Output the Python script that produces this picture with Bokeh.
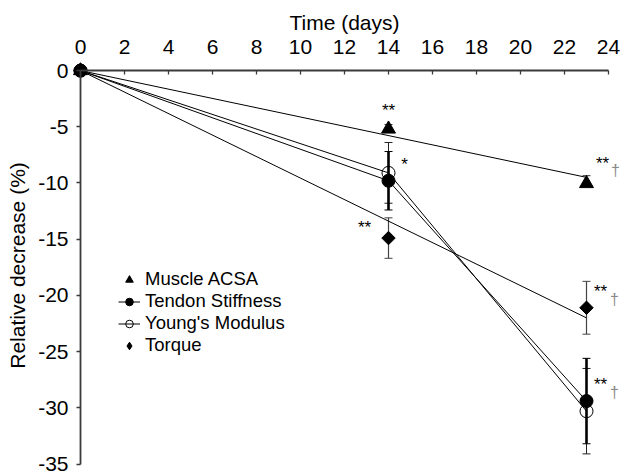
import numpy as np
from bokeh.plotting import figure
from bokeh.models import (LinearAxis, FixedTicker, Range1d, Whisker, TeeHead,
                          ColumnDataSource, Legend, LegendItem, Label)
from bokeh.embed import file_html
from bokeh.resources import INLINE

# ---------------- data ----------------
days = [0, 14, 23]
acsa = [0.0, -5.2, -10.05]
acsa_sd = [0.0, 0.4, 0.7]
stiffness = [0.0, -9.8, -29.4]
stiffness_sd = [0.0, 2.6, 3.8]
modulus = [0.0, -9.1, -30.3]
modulus_sd = [0.0, 2.7, 3.8]
torque = [0.0, -14.9, -21.1]
torque_sd = [0.0, 1.8, 2.35]
trend_days = [0, 23]
acsa_trend = [0.0, -9.5]
torque_trend = [0.0, -22.0]
x_ticks = list(range(0, 25, 2))
y_ticks = list(range(-35, 1, 5))
y_tick_labels = ["-35", "-30", "-25", "-20", "-15", "-10", "-5", "0"]
series_names = ["Muscle ACSA", "Tendon Stiffness", "Young's Modulus", "Torque"]

FONT = "Liberation Sans"
FS_AX = "21px"
FS_LEG = "18.5px"
AXIS_COLOR = "#3a3a3a"

p = figure(width=620, height=475, output_backend="svg", toolbar_location=None,
           x_range=Range1d(-0.5, 24.5), y_range=Range1d(-35.4, 0.72),
           x_axis_location=None, y_axis_location=None,
           min_border_left=69, min_border_right=1, min_border_top=62,
           min_border_bottom=7)
p.grid.visible = False
p.outline_line_color = None
p.background_fill_color = "white"
p.border_fill_color = "white"

# label-only axes on the frame edges
lx = LinearAxis(axis_label="Time (days)", ticker=FixedTicker(ticks=x_ticks))
ly = LinearAxis(axis_label="Relative decrease (%)", ticker=FixedTicker(ticks=y_ticks),
                major_label_overrides={t: s for t, s in zip(y_ticks, y_tick_labels)})
for ax in (lx, ly):
    ax.axis_line_color = None
    ax.major_tick_line_color = None
    ax.minor_tick_line_color = None
    ax.major_tick_in = 0
    ax.major_tick_out = 0
    ax.major_label_text_font = FONT
    ax.major_label_text_font_size = FS_AX
    ax.major_label_text_color = "black"
    ax.axis_label_text_font = FONT
    ax.axis_label_text_font_size = FS_AX
    ax.axis_label_text_font_style = "normal"
    ax.axis_label_text_color = "black"
lx.major_label_standoff = 9
lx.axis_label_standoff = 3
ly.major_label_standoff = 1
ly.axis_label_standoff = 6
p.add_layout(lx, "above")
p.add_layout(ly, "left")

# axis lines + ticks fixed on the zero lines (no labels of their own)
fx = LinearAxis(ticker=FixedTicker(ticks=x_ticks), fixed_location=0, bounds=(0, 24),
                major_label_overrides={t: "" for t in x_ticks})
fy = LinearAxis(ticker=FixedTicker(ticks=y_ticks), fixed_location=0, bounds=(-35, 0),
                major_label_overrides={t: "" for t in y_ticks})
for ax in (fx, fy):
    ax.axis_line_color = AXIS_COLOR
    ax.axis_line_width = 1.8
    ax.major_tick_line_color = AXIS_COLOR
    ax.major_tick_line_width = 1.3
    ax.minor_tick_line_color = None
    ax.major_label_standoff = 0
fx.major_tick_in = 4
fx.major_tick_out = 0
fy.major_tick_in = 0
fy.major_tick_out = 4
p.add_layout(fx, "above")
p.add_layout(fy, "left")

# ---------------- error bars ----------------
def bars(vals, sds, lw, color, lower=True):
    v = np.array(vals[1:])
    s = np.array(sds[1:])
    lo = v - s if lower else v
    src = ColumnDataSource(dict(x=days[1:], up=v + s, lo=lo))
    w = Whisker(source=src, base="x", upper="up", lower="lo",
                line_color=color, line_width=lw, level="underlay",
                upper_head=TeeHead(size=8, line_width=1, line_color=color),
                lower_head=TeeHead(size=8, line_width=1, line_color=color))
    p.add_layout(w)

bars(acsa, acsa_sd, 1, "#333333", lower=False)
bars(torque, torque_sd, 1.2, "#444444")
bars(modulus, modulus_sd, 1, "#222222")
bars(stiffness, stiffness_sd, 2.6, "black")

# ---------------- lines ----------------
p.line(trend_days, acsa_trend, line_color="black", line_width=1)
p.line(trend_days, torque_trend, line_color="black", line_width=1)
l_mod = p.line(days, modulus, line_color="black", line_width=1)
l_stf = p.line(days, stiffness, line_color="black", line_width=1)

# ---------------- markers ----------------
r_acsa = p.scatter(days, acsa, marker="triangle", size=14, fill_color="black", line_color="black")
r_tor = p.scatter(days, torque, marker="square", angle=np.pi / 4, size=9.5,
                  fill_color="black", line_color="black")
r_mod = p.scatter(days, modulus, marker="circle", size=13, fill_color=None,
                  line_color="black", line_width=1)
r_stf = p.scatter(days, stiffness, marker="circle", size=13, fill_color="black",
                  line_color="black")
# legend-only diamond glyph (no visible points)
r_tor_leg = p.scatter([np.nan], [np.nan], marker="diamond", size=12,
                      fill_color="black", line_color="black")

# ---------------- legend: one entry per row, tightly stacked ----------------
leg_renderers = [[r_acsa], [l_stf, r_stf], [l_mod, r_mod], [r_tor_leg]]
leg_rows_y = [178, 156, 134, 112]   # screen offsets of each row from the frame bottom
for name, rends, ly_off in zip(series_names, leg_renderers, leg_rows_y):
    lg = Legend(items=[LegendItem(label=name, renderers=rends)],
                location=(49, ly_off), orientation="vertical")
    lg.border_line_color = None
    lg.background_fill_alpha = 0
    lg.padding = 0
    lg.margin = 0
    lg.spacing = 0
    lg.glyph_width = 22
    lg.glyph_height = 19
    lg.label_height = 19
    lg.label_standoff = 5
    lg.label_text_font = FONT
    lg.label_text_font_size = FS_LEG
    lg.label_text_color = "black"
    p.add_layout(lg)

# ---------------- significance marks ----------------
def mark(x, y, text, dx, dy, size="17px", color="black"):
    p.add_layout(Label(x=x, y=y, x_offset=dx, y_offset=dy, text=text,
                       text_font=FONT, text_font_size=size, text_color=color,
                       text_align="center", text_baseline="middle"))

DAG = "#8a8a8a"
mark(days[1], acsa[1], "**", 0, 19)
mark(days[1], modulus[1], "*", 16, 8)
mark(days[1], torque[1], "**", -24, 11)
mark(days[2], acsa[2], "**", 16, 20)
mark(days[2], acsa[2], "†", 29, 13, "16px", DAG)
mark(days[2], torque[2], "**", 14, 16)
mark(days[2], torque[2], "†", 28, 8, "16px", DAG)
mark(days[2], stiffness[2], "**", 14, 17)
mark(days[2], stiffness[2], "†", 28, 9, "16px", DAG)

open("out.html", "w").write(file_html(p, INLINE))
